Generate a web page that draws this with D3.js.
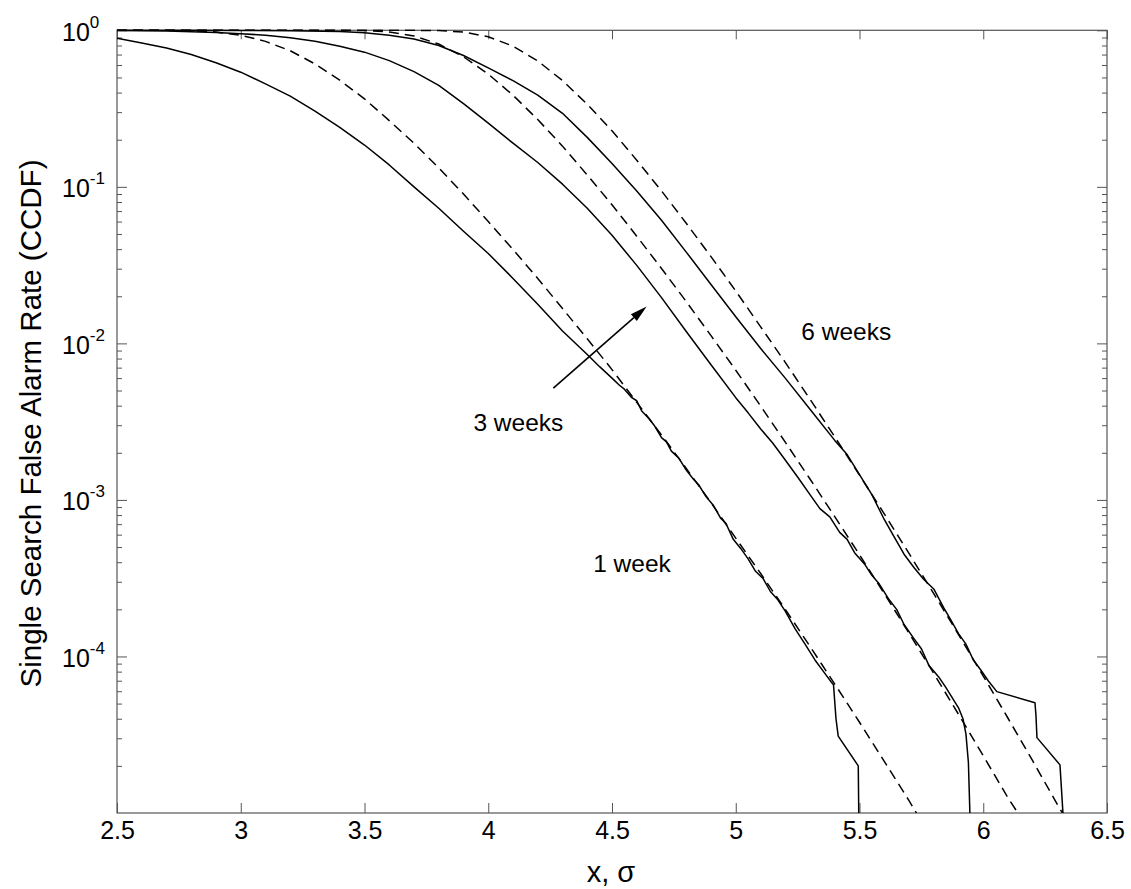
<!DOCTYPE html>
<html>
<head>
<meta charset="utf-8">
<script src="https://cdn.jsdelivr.net/npm/d3@7"></script>
<style>
  html, body { margin: 0; padding: 0; background: #fff; }
  svg { display: block; font-family: "Liberation Sans", Arial, Helvetica, sans-serif; }
</style>
</head>
<body>
<svg id="chart" width="1131" height="889"></svg>
<script>
// Axis ticks
const xTicks = [2.5, 3, 3.5, 4, 4.5, 5, 5.5, 6, 6.5];
const yExponents = [0, -1, -2, -3, -4];

// Measured CCDF, 1 week
const week1X = [2.5,2.6,2.7,2.8,2.9,3.0,3.1,3.2,3.3,3.4,3.5,3.6,3.7,3.8,3.9,4.0,4.1,4.2,4.3,4.4,4.45,4.5,4.53,4.55,4.58,4.60,4.62,4.65,4.67,4.70,4.72,4.74,4.77,4.80,4.83,4.85,4.88,4.91,4.94,4.96,4.99,5.02,5.05,5.08,5.11,5.14,5.17,5.20,5.24,5.28,5.32,5.36,5.385,5.395,5.405,5.414,5.495,5.497];
const week1Y = [0.889,0.83,0.77,0.70,0.62,0.54,0.455,0.38,0.305,0.24,0.185,0.138,0.1,0.073,0.052,0.0375,0.026,0.0178,0.012,0.0085,0.0071,0.0060,0.0054,0.0051,0.0045,0.0043,0.0037,0.0033,0.0030,0.0025,0.00235,0.00205,0.00185,0.00155,0.00135,0.00125,0.00105,0.00092,0.00076,0.00071,0.00056,0.00049,0.00042,0.00035,0.000315,0.00026,0.00023,0.000195,0.00015,0.00012,0.000095,0.000078,0.000069,0.000066,0.00004,0.000031,0.00002,0.00001];

// Measured CCDF, 3 weeks
const week3X = [2.5,2.7,2.9,3.0,3.1,3.2,3.3,3.4,3.5,3.6,3.7,3.8,3.9,4.0,4.1,4.2,4.3,4.4,4.5,4.6,4.7,4.8,4.9,5.0,5.05,5.1,5.15,5.2,5.25,5.3,5.34,5.38,5.42,5.45,5.48,5.52,5.55,5.58,5.62,5.65,5.68,5.72,5.75,5.78,5.82,5.85,5.87,5.9,5.918,5.93,5.94,5.946];
const week3Y = [0.996,0.988,0.968,0.952,0.93,0.895,0.85,0.79,0.725,0.64,0.545,0.445,0.34,0.255,0.19,0.143,0.104,0.073,0.049,0.0315,0.0196,0.0119,0.0073,0.0045,0.0036,0.00285,0.0023,0.0018,0.0014,0.00108,0.00088,0.00078,0.00062,0.00056,0.00046,0.00039,0.00033,0.00029,0.00023,0.00020,0.00016,0.00013,0.000112,0.000088,0.000074,0.000063,0.000056,0.000047,0.000040,0.000032,0.000021,0.00001];

// Measured CCDF, 6 weeks
const week6X = [2.5,2.8,3.0,3.2,3.4,3.5,3.6,3.7,3.8,3.9,4.0,4.1,4.2,4.3,4.4,4.5,4.6,4.7,4.8,4.9,5.0,5.1,5.2,5.3,5.4,5.45,5.5,5.55,5.6,5.64,5.68,5.72,5.76,5.8,5.84,5.87,5.9,5.93,5.96,5.99,6.02,6.055,6.209,6.213,6.217,6.310,6.322];
const week6Y = [0.9995,0.999,0.997,0.992,0.982,0.965,0.93,0.88,0.80,0.69,0.575,0.477,0.385,0.295,0.207,0.141,0.094,0.0612,0.0383,0.0238,0.0148,0.0093,0.0060,0.0038,0.0024,0.00195,0.00145,0.00108,0.00075,0.00058,0.00045,0.00037,0.00031,0.00027,0.000205,0.00017,0.00014,0.00012,0.000095,0.000082,0.00007,0.0000596,0.0000506,0.000042,0.0000303,0.0000203,0.00001];

// Gaussian reference curves (dashed)
const gauss1X = [2.5,2.6,2.7,2.8,2.9,3.0,3.1,3.2,3.3,3.4,3.5,3.6,3.7,3.8,3.9,4.0,4.1,4.2,4.3,4.4,4.5,4.6,4.7,4.8,4.9,5.0,5.1,5.2,5.3,5.4,5.5,5.6,5.7,5.73];
const gauss1Y = [1.0,0.9999,0.999,0.994,0.975,0.93,0.85,0.74,0.61,0.48,0.365,0.265,0.19,0.132,0.09,0.06,0.0398,0.026,0.0167,0.0107,0.0068,0.0042,0.0026,0.00159,0.00096,0.00057,0.00034,0.0002,0.000116,0.0000666,0.000038,0.0000214,0.000012,0.00001];

const gauss3X = [2.5,3.0,3.3,3.4,3.5,3.6,3.7,3.8,3.9,4.0,4.1,4.2,4.3,4.4,4.5,4.6,4.7,4.8,4.9,5.0,5.1,5.2,5.3,5.4,5.5,5.6,5.7,5.8,5.9,6.0,6.1,6.14];
const gauss3Y = [1,1,0.99995,0.9996,0.996,0.976,0.921,0.817,0.677,0.525,0.385,0.269,0.182,0.119,0.0768,0.0484,0.0301,0.0185,0.0112,0.00674,0.00399,0.00234,0.00136,0.000783,0.000446,0.000252,0.000141,0.0000779,0.0000427,0.0000232,0.0000125,0.00001];

const gauss6X = [2.5,3.5,3.7,3.8,3.9,4.0,4.1,4.2,4.3,4.4,4.5,4.6,4.7,4.8,4.9,5.0,5.1,5.2,5.3,5.4,5.5,5.6,5.7,5.8,5.9,6.0,6.1,6.2,6.3,6.32];
const gauss6Y = [1,1,0.9997,0.996,0.974,0.91,0.792,0.637,0.477,0.337,0.228,0.148,0.0942,0.0585,0.0358,0.0216,0.0128,0.00757,0.0044,0.00253,0.00144,0.000815,0.000455,0.000252,0.000138,0.000075,0.0000403,0.0000215,0.0000113,0.00001];

// Annotations: text labels and the "increasing duration" arrow
const labelText = ["6 weeks", "3 weeks", "1 week"];
const labelX = [5.265, 3.94, 4.424];
const labelY = [0.01052, 0.00276, 0.000344];
const arrowX = [4.263, 4.640];
const arrowY = [0.00518, 0.0172];

const svg = d3.select("#chart");
const plotLeft = 117, plotRight = 1107, plotTop = 30.3, plotBottom = 813;

const x = d3.scaleLinear().domain([2.5, 6.5]).range([plotLeft, plotRight]);
const y = d3.scaleLog().domain([1e-5, 1]).range([plotBottom, plotTop]);

const axisColor = "#555";

svg.append("defs").append("clipPath").attr("id", "plot-clip")
  .append("rect").attr("x", plotLeft).attr("y", plotTop - 1)
  .attr("width", plotRight - plotLeft).attr("height", plotBottom - plotTop + 1);

// Tick marks on all four sides (inward)
const minorVals = [];
for (let e = -5; e < 0; e++) for (let m = 2; m <= 9; m++) minorVals.push(m * Math.pow(10, e));
const majorVals = yExponents.map(e => Math.pow(10, e));

function styleAxis(g) {
  g.select(".domain").remove();
  g.selectAll(".tick line").attr("stroke", axisColor).attr("stroke-width", 1);
}

svg.append("g").attr("transform", `translate(0,${plotBottom})`)
  .call(d3.axisBottom(x).tickValues(xTicks).tickSize(-10).tickSizeOuter(0).tickPadding(18).tickFormat(d => String(d)))
  .call(styleAxis)
  .call(g => g.selectAll(".tick text").attr("font-size", 25).attr("fill", "#000")
    .attr("font-family", "'Liberation Sans', Arial, sans-serif").attr("dy", "0.3em"));

svg.append("g").attr("transform", `translate(0,${plotTop})`)
  .call(d3.axisTop(x).tickValues(xTicks).tickSize(-9).tickSizeOuter(0).tickFormat(""))
  .call(styleAxis);

svg.append("g").attr("transform", `translate(${plotLeft},0)`)
  .call(d3.axisLeft(y).tickValues(majorVals).tickSize(-10).tickSizeOuter(0).tickFormat(""))
  .call(styleAxis);
svg.append("g").attr("transform", `translate(${plotLeft},0)`)
  .call(d3.axisLeft(y).tickValues(minorVals).tickSize(-5).tickSizeOuter(0).tickFormat(""))
  .call(styleAxis);
svg.append("g").attr("transform", `translate(${plotRight},0)`)
  .call(d3.axisRight(y).tickValues(majorVals).tickSize(-10).tickSizeOuter(0).tickFormat(""))
  .call(styleAxis);
svg.append("g").attr("transform", `translate(${plotRight},0)`)
  .call(d3.axisRight(y).tickValues(minorVals).tickSize(-5).tickSizeOuter(0).tickFormat(""))
  .call(styleAxis);

// Power-of-ten labels on the y axis
const yLab = svg.append("g").attr("font-size", 25).attr("fill", "#000");
yExponents.forEach(e => {
  const t = yLab.append("text").attr("x", plotLeft - 55).attr("y", y(Math.pow(10, e)) + 10.5);
  t.append("tspan").text("10");
  t.append("tspan").attr("font-size", 17).attr("dy", -13).text(String(e));
});

// Frame
svg.append("rect").attr("x", plotLeft).attr("y", plotTop)
  .attr("width", plotRight - plotLeft).attr("height", plotBottom - plotTop)
  .attr("fill", "none").attr("stroke", axisColor).attr("stroke-width", 1.2);

// Curves
const line = d3.line().x(d => x(d[0])).y(d => y(d[1]));
const plot = svg.append("g").attr("clip-path", "url(#plot-clip)");

const dashed = [[gauss1X, gauss1Y], [gauss3X, gauss3Y], [gauss6X, gauss6Y]];
const solid = [[week1X, week1Y], [week3X, week3Y], [week6X, week6Y]];

dashed.forEach(([xs, ys]) => {
  plot.append("path").datum(d3.zip(xs, ys)).attr("d", line)
    .attr("fill", "none").attr("stroke", "#000").attr("stroke-width", 1.5)
    .attr("stroke-dasharray", "10,6");
});
solid.forEach(([xs, ys]) => {
  plot.append("path").datum(d3.zip(xs, ys)).attr("d", line)
    .attr("fill", "none").attr("stroke", "#000").attr("stroke-width", 1.5)
    .attr("stroke-linejoin", "round");
});

// Arrow
const ax0 = x(arrowX[0]), ay0 = y(arrowY[0]), ax1 = x(arrowX[1]), ay1 = y(arrowY[1]);
const ang = Math.atan2(ay1 - ay0, ax1 - ax0);
const headLen = 17, headHalf = 4.5;
const bx = ax1 - headLen * Math.cos(ang), by = ay1 - headLen * Math.sin(ang);
svg.append("line").attr("x1", ax0).attr("y1", ay0).attr("x2", bx).attr("y2", by)
  .attr("stroke", "#000").attr("stroke-width", 1.6);
svg.append("path")
  .attr("d", `M${ax1},${ay1}L${bx + headHalf * Math.sin(ang)},${by - headHalf * Math.cos(ang)}L${bx - headHalf * Math.sin(ang)},${by + headHalf * Math.cos(ang)}Z`)
  .attr("fill", "#000");

// Duration labels
labelText.forEach((s, i) => {
  svg.append("text").attr("x", x(labelX[i])).attr("y", y(labelY[i]))
    .attr("font-size", 24.5).attr("fill", "#000").text(s);
});

// Axis titles
svg.append("text").attr("x", 611).attr("y", 882).attr("text-anchor", "middle")
  .attr("font-size", 29).attr("fill", "#000").text("x, σ");
svg.append("text").attr("transform", "translate(41,423.5) rotate(-90)").attr("text-anchor", "middle")
  .attr("font-size", 29.5).attr("fill", "#000").text("Single Search False Alarm Rate (CCDF)");
</script>
</body>
</html>
